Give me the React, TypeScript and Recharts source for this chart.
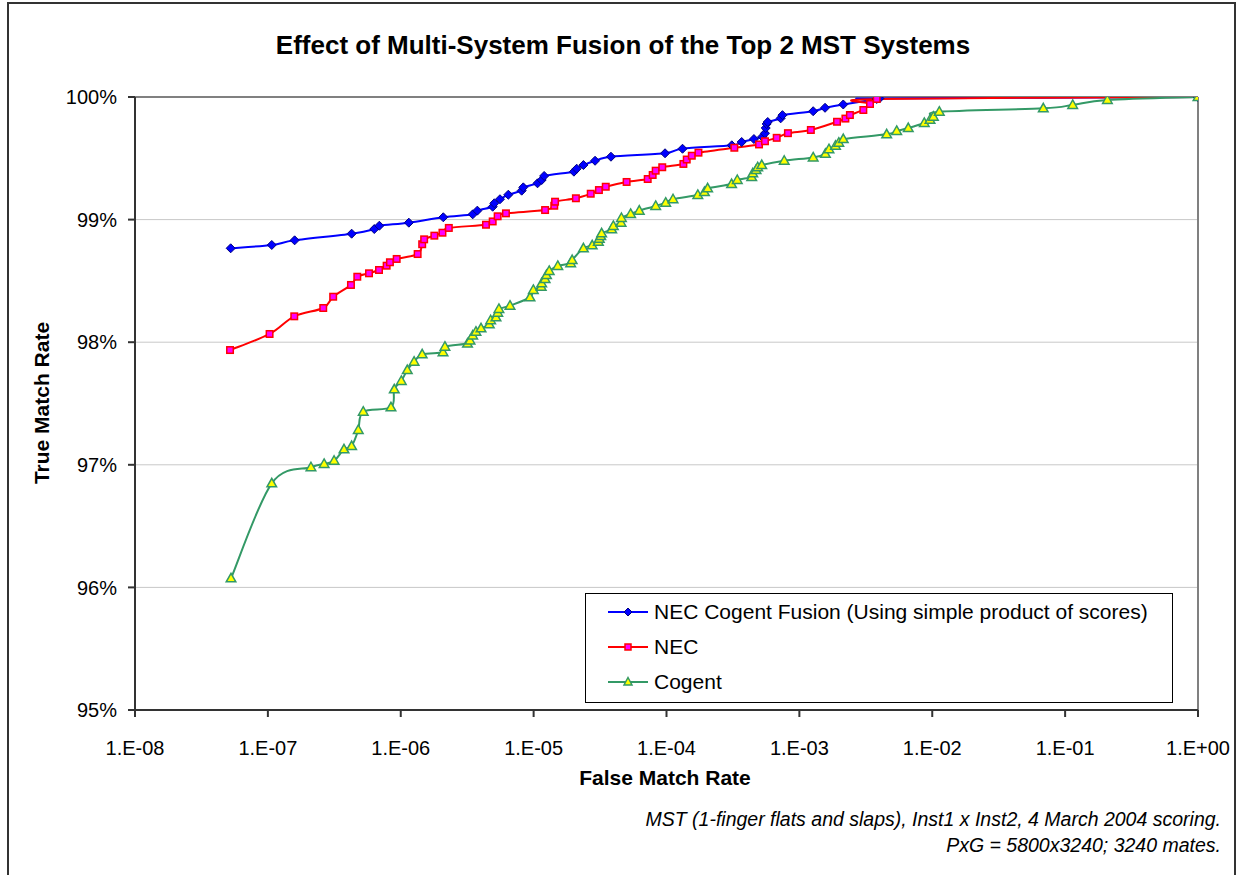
import React from "react";
import { LineChart, Line, XAxis, YAxis, CartesianGrid, ReferenceLine } from "recharts";

// ---------- data ----------
const xTicks = [1e-8, 1e-7, 1e-6, 1e-5, 1e-4, 1e-3, 1e-2, 1e-1, 1];
const yTicks = [95, 96, 97, 98, 99, 100];

const fusionFmr = [5.25e-8, 1.07e-7, 1.59e-7, 4.27e-7, 6.32e-7, 6.9e-7, 1.15e-6, 2.09e-6, 3.48e-6, 3.77e-6, 4.92e-6, 5.06e-6, 5.58e-6, 6.45e-6, 8.13e-6, 8.36e-6, 1.07e-5, 1.15e-5, 1.2e-5, 2.01e-5, 2.11e-5, 2.37e-5, 2.9e-5, 3.82e-5, 9.75e-5, 1.32e-4, 3.1e-4, 3.68e-4, 4.55e-4, 5.26e-4, 5.51e-4, 5.58e-4, 5.67e-4, 5.78e-4, 7.23e-4, 7.46e-4, 1.27e-3, 1.56e-3, 2.14e-3, 3.82e-3, 4.0e-3, 1];
const fusionTmr = [98.766, 98.793, 98.831, 98.885, 98.923, 98.95, 98.975, 99.019, 99.043, 99.073, 99.105, 99.133, 99.166, 99.203, 99.236, 99.263, 99.296, 99.323, 99.356, 99.391, 99.415, 99.445, 99.48, 99.513, 99.541, 99.578, 99.606, 99.633, 99.657, 99.676, 99.704, 99.747, 99.78, 99.796, 99.826, 99.852, 99.884, 99.912, 99.939, 99.984, 99.988, 100];

const necFmr = [5.19e-8, 1.03e-7, 1.58e-7, 2.61e-7, 3.1e-7, 4.22e-7, 4.71e-7, 5.77e-7, 6.86e-7, 7.83e-7, 8.29e-7, 9.32e-7, 1.34e-6, 1.45e-6, 1.5e-6, 1.79e-6, 2.06e-6, 2.3e-6, 4.38e-6, 4.92e-6, 5.36e-6, 6.19e-6, 1.22e-5, 1.43e-5, 1.45e-5, 2.08e-5, 2.69e-5, 3.1e-5, 3.49e-5, 5.01e-5, 7.22e-5, 7.87e-5, 8.29e-5, 9.29e-5, 1.34e-4, 1.42e-4, 1.55e-4, 1.74e-4, 3.24e-4, 4.97e-4, 5.51e-4, 6.75e-4, 8.2e-4, 1.22e-3, 1.92e-3, 2.22e-3, 2.4e-3, 3.03e-3, 3.4e-3, 3.82e-3, 1];
const necTmr = [97.936, 98.067, 98.211, 98.279, 98.371, 98.467, 98.534, 98.562, 98.589, 98.624, 98.652, 98.679, 98.719, 98.799, 98.839, 98.869, 98.893, 98.932, 98.958, 98.985, 99.027, 99.051, 99.078, 99.113, 99.146, 99.174, 99.211, 99.241, 99.268, 99.307, 99.331, 99.364, 99.399, 99.427, 99.454, 99.49, 99.521, 99.546, 99.586, 99.613, 99.639, 99.667, 99.705, 99.731, 99.798, 99.824, 99.853, 99.894, 99.943, 99.984, 100];

const cogentFmr = [5.28e-8, 1.07e-7, 2.11e-7, 2.65e-7, 3.15e-7, 3.74e-7, 4.27e-7, 4.79e-7, 5.22e-7, 8.44e-7, 8.94e-7, 1.01e-6, 1.12e-6, 1.26e-6, 1.45e-6, 2.08e-6, 2.15e-6, 3.18e-6, 3.32e-6, 3.48e-6, 3.68e-6, 4.02e-6, 4.64e-6, 4.75e-6, 5.21e-6, 5.37e-6, 5.48e-6, 6.64e-6, 9.39e-6, 9.95e-6, 1.14e-5, 1.15e-5, 1.22e-5, 1.25e-5, 1.31e-5, 1.52e-5, 1.9e-5, 1.95e-5, 2.37e-5, 2.76e-5, 3.07e-5, 3.12e-5, 3.2e-5, 3.25e-5, 3.87e-5, 3.98e-5, 4.55e-5, 4.58e-5, 5.37e-5, 6.24e-5, 8.29e-5, 9.86e-5, 1.12e-4, 1.72e-4, 1.93e-4, 2.04e-4, 3.09e-4, 3.41e-4, 4.38e-4, 4.46e-4, 4.72e-4, 4.86e-4, 5.21e-4, 7.69e-4, 1.27e-3, 1.57e-3, 1.67e-3, 1.87e-3, 1.98e-3, 2.14e-3, 4.54e-3, 5.4e-3, 6.6e-3, 8.71e-3, 9.62e-3, 1.02e-2, 1.13e-2, 6.85e-2, 0.114, 0.208, 1];
const cogentTmr = [96.074, 96.849, 96.98, 97.007, 97.033, 97.126, 97.153, 97.284, 97.433, 97.469, 97.616, 97.684, 97.773, 97.841, 97.901, 97.918, 97.963, 97.989, 98.014, 98.055, 98.086, 98.113, 98.146, 98.179, 98.203, 98.241, 98.271, 98.298, 98.366, 98.426, 98.453, 98.48, 98.516, 98.548, 98.581, 98.622, 98.644, 98.67, 98.766, 98.79, 98.82, 98.844, 98.866, 98.888, 98.921, 98.948, 98.975, 99.013, 99.046, 99.073, 99.111, 99.138, 99.166, 99.201, 99.225, 99.255, 99.29, 99.323, 99.347, 99.378, 99.405, 99.427, 99.445, 99.48, 99.507, 99.537, 99.574, 99.603, 99.627, 99.657, 99.696, 99.723, 99.747, 99.788, 99.815, 99.839, 99.88, 99.908, 99.935, 99.976, 100];

const seriesNames = ["NEC Cogent Fusion (Using simple product of scores)", "NEC", "Cogent"];

const zip = (xs: number[], ys: number[]) => {
  const n = Math.min(xs.length, ys.length);
  const out: { x: number; y: number }[] = [];
  for (let i = 0; i < n; i++) out.push({ x: xs[i], y: ys[i] });
  return out;
};

const fusionData = zip(fusionFmr, fusionTmr);
const necData = zip(necFmr, necTmr);
const cogentData = zip(cogentFmr, cogentTmr);

// ---------- styling ----------
const FONT = "'Liberation Sans', Arial, Helvetica, sans-serif";
const BLUE = "#0000FF";
const RED = "#FF0000";
const GREEN = "#339966";

// Excel-like smoothed line (uniform Catmull-Rom through the points)
const excelSmooth: any = (context: any) => {
  let pts: number[][] = [];
  return {
    areaStart() {},
    areaEnd() {},
    lineStart() {
      pts = [];
    },
    point(x: number, y: number) {
      pts.push([+x, +y]);
    },
    lineEnd() {
      const n = pts.length;
      if (n === 0) return;
      context.moveTo(pts[0][0], pts[0][1]);
      if (n === 1) return;
      for (let i = 0; i < n - 1; i++) {
        const p0 = pts[i - 1] || pts[i];
        const p1 = pts[i];
        const p2 = pts[i + 1];
        const p3 = pts[i + 2] || pts[i + 1];
        const c1x = p1[0] + (p2[0] - p0[0]) / 6;
        const c1y = p1[1] + (p2[1] - p0[1]) / 6;
        const c2x = p2[0] - (p3[0] - p1[0]) / 6;
        const c2y = p2[1] - (p3[1] - p1[1]) / 6;
        context.bezierCurveTo(c1x, c1y, c2x, c2y, p2[0], p2[1]);
      }
    },
  };
};

const fmtX = (v: number) => {
  const e = Math.round(Math.log10(v));
  const a = Math.abs(e);
  return "1.E" + (e >= 0 ? "+" : "-") + (a < 10 ? "0" + a : String(a));
};

const DiamondDot = (p: any) => {
  const { cx, cy, index } = p;
  if (cx == null || cy == null) return <g key={"d" + index} />;
  const r = 4.5;
  return (
    <polygon
      key={"d" + index}
      points={`${cx},${cy - r} ${cx + r},${cy} ${cx},${cy + r} ${cx - r},${cy}`}
      fill={BLUE}
      stroke="#000080"
      strokeWidth={1}
    />
  );
};

const SquareDot = (p: any) => {
  const { cx, cy, index } = p;
  if (cx == null || cy == null) return <g key={"s" + index} />;
  const s = 6.5;
  return <rect key={"s" + index} x={cx - s / 2} y={cy - s / 2} width={s} height={s} fill="#FF00FF" stroke={RED} strokeWidth={1.5} />;
};

const TriangleDot = (p: any) => {
  const { cx, cy, index } = p;
  if (cx == null || cy == null) return <g key={"t" + index} />;
  return (
    <polygon
      key={"t" + index}
      points={`${cx},${cy - 5} ${cx + 4.8},${cy + 3.5} ${cx - 4.8},${cy + 3.5}`}
      fill="#FFFF00"
      stroke={GREEN}
      strokeWidth={1.5}
    />
  );
};

const legendItems = [
  { name: seriesNames[0], color: BLUE, kind: "d" },
  { name: seriesNames[1], color: RED, kind: "s" },
  { name: seriesNames[2], color: GREEN, kind: "t" },
];

const LegendBox = () => (
  <div
    style={{
      position: "absolute",
      left: 585,
      top: 593,
      width: 588,
      height: 110,
      border: "1px solid #000",
      background: "#fff",
      boxSizing: "border-box",
      fontFamily: FONT,
      fontSize: 21,
      color: "#000",
    }}
  >
    {legendItems.map((it, i) => (
      <div key={i} style={{ position: "absolute", left: 20, top: 6 + i * 35, height: 24, display: "flex", alignItems: "center" }}>
        <svg width={44} height={24} style={{ display: "block" }}>
          <line x1={2} y1={12} x2={42} y2={12} stroke={it.color} strokeWidth={2} />
          {it.kind === "d" && <polygon points="22,8 26,12 22,16 18,12" fill={BLUE} stroke="#000080" strokeWidth={1} />}
          {it.kind === "s" && <rect x={19} y={9} width={6} height={6} fill="#FF00FF" stroke={RED} strokeWidth={1.5} />}
          {it.kind === "t" && <polygon points="22,7.5 26,15 18,15" fill="#FFFF00" stroke={GREEN} strokeWidth={1.5} />}
        </svg>
        <span style={{ marginLeft: 4, whiteSpace: "nowrap", lineHeight: "24px" }}>{it.name}</span>
      </div>
    ))}
  </div>
);

export default function App() {
  return (
    <div style={{ position: "absolute", left: 0, top: 0, width: 1240, height: 875, overflow: "hidden", background: "#fff" }}>
      <div
        style={{
          position: "absolute",
          left: 7,
          top: 2,
          width: 1229,
          height: 900,
          border: "2px solid #333",
          boxSizing: "border-box",
        }}
      />
      <div style={{ position: "absolute", left: 0, top: 0 }}>
        <LineChart width={1240} height={875} margin={{ top: 97, right: 42, bottom: 125, left: 55 }}>
          <CartesianGrid horizontal={true} vertical={false} stroke="#C8C8C8" strokeWidth={1} />
          <XAxis
            dataKey="x"
            type="number"
            scale="log"
            domain={[1e-8, 1]}
            ticks={xTicks}
            allowDataOverflow
            tickFormatter={fmtX}
            height={40}
            stroke="#333"
            strokeWidth={2}
            tickSize={7}
            tickMargin={24}
            tick={{ fill: "#000", fontSize: 20, fontFamily: FONT }}
            interval={0}
          />
          <YAxis
            type="number"
            domain={[95, 100]}
            ticks={yTicks}
            allowDataOverflow
            tickFormatter={(v: number) => v + "%"}
            width={80}
            stroke="#333"
            strokeWidth={2}
            tickSize={7}
            tickMargin={11}
            tick={{ fill: "#000", fontSize: 20, fontFamily: FONT }}
            interval={0}
          />
          <ReferenceLine y={100} stroke="#808080" strokeWidth={2} />
          <ReferenceLine x={1} stroke="#808080" strokeWidth={2} />
          <Line
            data={fusionData}
            dataKey="y"
            name={seriesNames[0]}
            type={excelSmooth}
            stroke={BLUE}
            strokeWidth={2}
            dot={DiamondDot}
            activeDot={false}
            isAnimationActive={false}
          />
          <Line
            data={necData}
            dataKey="y"
            name={seriesNames[1]}
            type={excelSmooth}
            stroke={RED}
            strokeWidth={2}
            dot={SquareDot}
            activeDot={false}
            isAnimationActive={false}
          />
          <Line
            data={cogentData}
            dataKey="y"
            name={seriesNames[2]}
            type={excelSmooth}
            stroke={GREEN}
            strokeWidth={2}
            dot={TriangleDot}
            activeDot={false}
            isAnimationActive={false}
          />
        </LineChart>
      </div>
      <LegendBox />
      <svg width={1240} height={875} style={{ position: "absolute", left: 0, top: 0, pointerEvents: "none" }}>
        <text x={623} y={54} textAnchor="middle" fontFamily={FONT} fontWeight="bold" fontSize={26} fill="#000">
          Effect of Multi-System Fusion of the Top 2 MST Systems
        </text>
        <text x={665} y={785} textAnchor="middle" fontFamily={FONT} fontWeight="bold" fontSize={21} fill="#000">
          False Match Rate
        </text>
        <text
          x={0}
          y={0}
          transform="translate(49,403) rotate(-90)"
          textAnchor="middle"
          fontFamily={FONT}
          fontWeight="bold"
          fontSize={21}
          fill="#000"
        >
          True Match Rate
        </text>
        <text x={1221} y={826} textAnchor="end" fontFamily={FONT} fontStyle="italic" fontSize={19.5} fill="#000">
          MST (1-finger flats and slaps), Inst1 x Inst2, 4 March 2004 scoring.
        </text>
        <text x={1221} y={852} textAnchor="end" fontFamily={FONT} fontStyle="italic" fontSize={19.5} fill="#000">
          PxG = 5800x3240; 3240 mates.
        </text>
      </svg>
    </div>
  );
}
